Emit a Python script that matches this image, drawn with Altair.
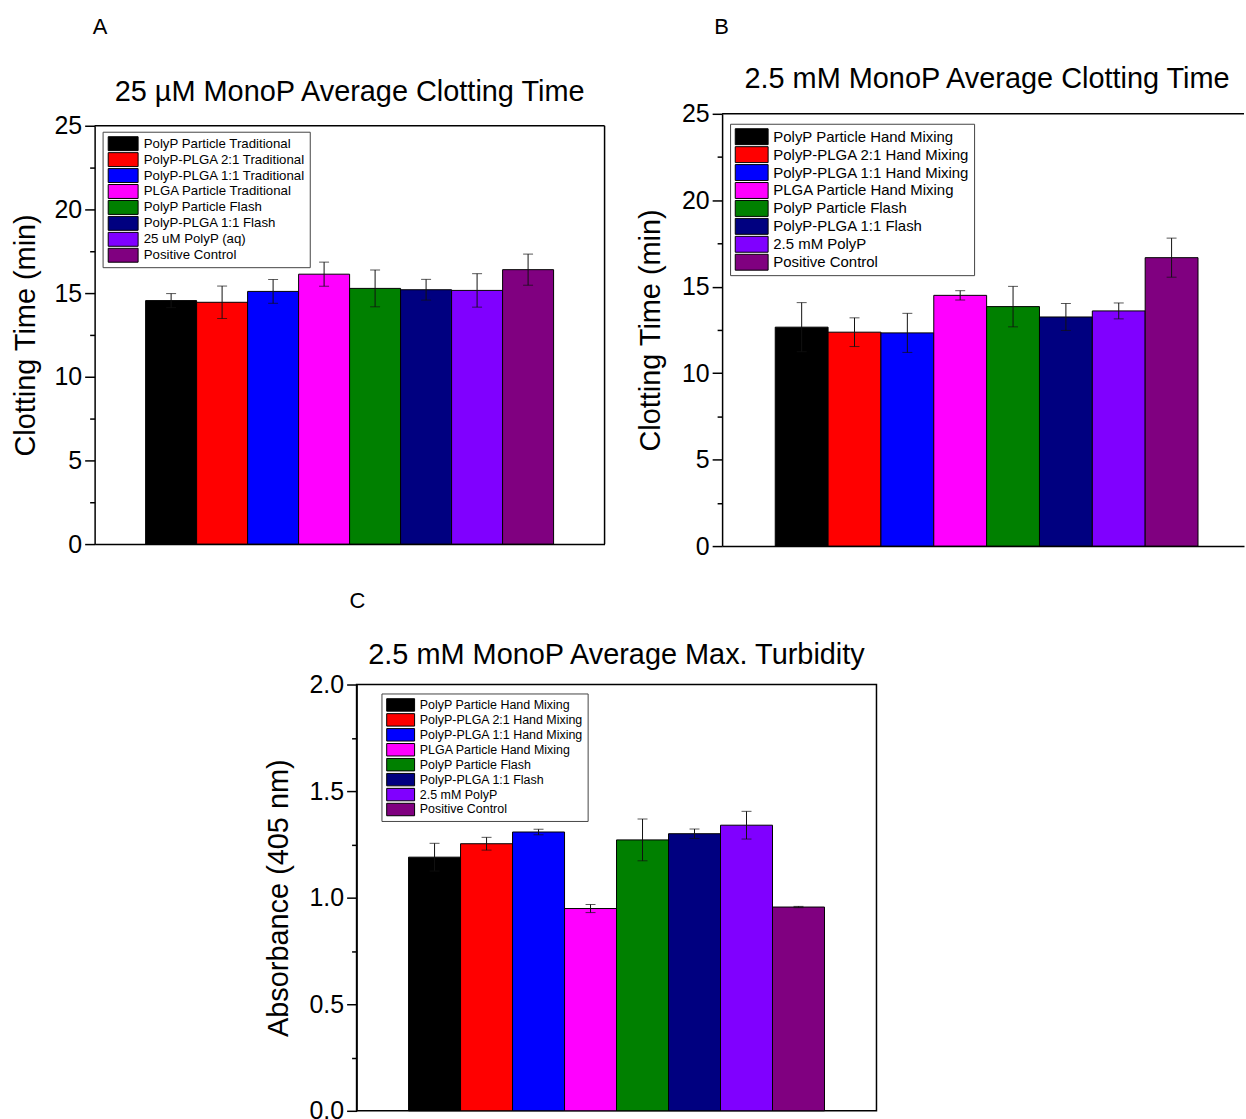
import altair as alt
import pandas as pd

FONT = "Liberation Sans"

# ---------------- data ----------------
colors = ["#000000", "#FF0000", "#0000FF", "#FF00FF", "#008000", "#000080", "#8000FF", "#800080"]

labels_a = ["PolyP Particle Traditional", "PolyP-PLGA 2:1 Traditional", "PolyP-PLGA 1:1 Traditional",
            "PLGA Particle Traditional", "PolyP Particle Flash", "PolyP-PLGA 1:1 Flash",
            "25 uM PolyP (aq)", "Positive Control"]
values_a = [14.55, 14.45, 15.10, 16.13, 15.28, 15.20, 15.16, 16.40]
errors_a = [0.42, 0.97, 0.71, 0.72, 1.10, 0.62, 1.00, 0.93]

labels_bc = ["PolyP Particle Hand Mixing", "PolyP-PLGA 2:1 Hand Mixing", "PolyP-PLGA 1:1 Hand Mixing",
             "PLGA Particle Hand Mixing", "PolyP Particle Flash", "PolyP-PLGA 1:1 Flash",
             "2.5 mM PolyP", "Positive Control"]
values_b = [12.66, 12.37, 12.33, 14.50, 13.85, 13.25, 13.60, 16.68]
errors_b = [1.42, 0.83, 1.13, 0.27, 1.17, 0.78, 0.46, 1.13]

values_c = [1.190, 1.253, 1.308, 0.949, 1.271, 1.300, 1.340, 0.956]
errors_c = [0.065, 0.030, 0.013, 0.019, 0.098, 0.022, 0.065, 0.003]

titles = ["25 \u00b5M MonoP Average Clotting Time",
          "2.5 mM MonoP Average Clotting Time",
          "2.5 mM MonoP Average Max. Turbidity"]
y_titles = ["Clotting Time (min)", "Clotting Time (min)", "Absorbance (405 nm)"]
letters = ["A", "B", "C"]


def panel(labels, values, errors, *, title, title_y, title_dx, ytitle, ymax, major, minor, fmt,
          width, height, shift, pad_outer, band_align, title_pad,
          leg_x, leg_y, leg_font, sym_w, sym_h, sym_s, leg_row_h, leg_pad,
          letter, letter_x, letter_y, frame):
    # frame: "view" (box drawn by the view), "box" (drawn by axes + rules), "open" (no right side)
    df = pd.DataFrame({
        "cond": labels,
        "value": values,
        "lo": [v - e for v, e in zip(values, errors)],
        "hi": [v + e for v, e in zip(values, errors)],
    })
    n_minor = int(round(ymax / minor))
    tick_vals = [round(i * minor, 4) for i in range(n_minor + 1)]
    is_major = f"abs(datum.value / {major} - round(datum.value / {major})) < 0.001"
    yaxis = alt.Axis(
        values=tick_vals, format=fmt,
        labelExpr=f"{is_major} ? datum.label : ''",
        tickSize={"condition": {"test": is_major, "value": 10}, "value": 5},
        tickWidth=1.5, tickColor="black",
        domain=True, domainColor="black", domainWidth=1.5,
        grid=False,
        labelFontSize=25, labelColor="black", labelPadding=3, labelFont=FONT,
        title=ytitle, titleFontSize=29, titleFontWeight="normal", titleColor="black",
        titlePadding=title_pad, titleFont=FONT,
    )
    total_h = height + shift
    yscale = alt.Scale(domain=[0, ymax], nice=False, zero=True, range=[total_h, shift])
    xscale = alt.Scale(domain=labels, paddingInner=0, paddingOuter=pad_outer, align=band_align)
    if frame == "view":
        xenc = alt.X("cond:N", sort=labels, scale=xscale, axis=None)
    else:
        xenc = alt.X("cond:N", sort=labels, scale=xscale,
                     axis=alt.Axis(labels=False, ticks=False, title=None, domain=True,
                                   domainColor="black", domainWidth=1.5, grid=False))
    u = sym_s / 2.0
    a = round((sym_h / 2.0) / u, 4)
    b = round(-1 + sym_w / u, 4)
    legend = alt.Legend(
        title=None, orient="none", legendX=leg_x, legendY=leg_y,
        fillColor="white", strokeColor="#444444", padding=leg_pad,
        labelFontSize=leg_font, labelColor="black", labelFont=FONT, labelLimit=0,
        labelOffset=sym_w - sym_s + 4,
        symbolType=f"M-1,-{a}H{b}V{a}H-1Z", symbolSize=sym_s * sym_s,
        symbolStrokeColor="black", symbolStrokeWidth=1, symbolOpacity=1,
        clipHeight=leg_row_h, rowPadding=0,
    )
    base = alt.Chart(df)
    bars = base.mark_bar(stroke="black", strokeWidth=1, opacity=1).encode(
        x=xenc,
        y=alt.Y("value:Q", scale=yscale, axis=yaxis),
        color=alt.Color("cond:N", scale=alt.Scale(domain=labels, range=colors), legend=legend),
    )
    err = base.mark_rule(color="#111111", strokeWidth=1).encode(
        x=xenc, y=alt.Y("lo:Q", scale=yscale, axis=yaxis), y2="hi:Q")
    cap_hi = base.mark_tick(color="#111111", thickness=1, size=10, orient="horizontal").encode(
        x=xenc, y=alt.Y("hi:Q", scale=yscale, axis=yaxis))
    cap_lo = base.mark_tick(color="#111111", thickness=1, size=10, orient="horizontal").encode(
        x=xenc, y=alt.Y("lo:Q", scale=yscale, axis=yaxis))
    layers = [bars, err, cap_hi, cap_lo]
    if frame != "view":
        frame_df = pd.DataFrame({"bottom": [0], "top": [ymax]})
        top_rule = alt.Chart(frame_df).mark_rule(color="black", strokeWidth=1.5).encode(
            y=alt.Y("top:Q", scale=yscale, axis=yaxis), x=alt.value(0), x2=alt.value(width))
        layers.append(top_rule)
        if frame == "box":
            right_rule = alt.Chart(frame_df).mark_rule(color="black", strokeWidth=1.5).encode(
                y=alt.Y("bottom:Q", scale=yscale, axis=yaxis), y2="top:Q", x=alt.value(width))
            layers.append(right_rule)
    letter_chart = alt.Chart(pd.DataFrame({"t": [letter]})).mark_text(
        align="left", baseline="alphabetic", fontSize=22, color="black", font=FONT
    ).encode(text="t:N", x=alt.value(letter_x), y=alt.value(letter_y))
    title_chart = alt.Chart(pd.DataFrame({"t": [title]})).mark_text(
        align="center", baseline="alphabetic", fontSize=29, color="black", font=FONT
    ).encode(text="t:N", x=alt.value(width / 2 + title_dx), y=alt.value(title_y))
    layers += [letter_chart, title_chart]
    view = (alt.ViewBackground(stroke="black", strokeWidth=1.5) if frame == "view"
            else alt.ViewBackground(stroke="transparent"))
    return alt.layer(*layers).properties(width=width, height=total_h, view=view)


pA = panel(labels_a, values_a, errors_a, title=titles[0], title_y=-13, title_dx=0,
           ytitle=y_titles[0], ymax=25, major=5, minor=2.5, fmt="d",
           width=512, height=420, shift=12, pad_outer=1.0, band_align=0.5, title_pad=14,
           leg_x=8, leg_y=18, leg_font=13.3, sym_w=30, sym_h=14, sym_s=10, leg_row_h=16, leg_pad=4,
           letter=letters[0], letter_x=-2, letter_y=-80, frame="box")

pB = panel(labels_bc, values_b, errors_b, title=titles[1], title_y=-26, title_dx=4,
           ytitle=y_titles[1], ymax=25, major=5, minor=2.5, fmt="d",
           width=524, height=434, shift=0, pad_outer=0.938, band_align=0.536, title_pad=16,
           leg_x=8, leg_y=10, leg_font=15, sym_w=33, sym_h=16, sym_s=12.6, leg_row_h=18, leg_pad=4,
           letter=letters[1], letter_x=-8, letter_y=-80, frame="open")

pC = panel(labels_bc, values_c, errors_c, title=titles[2], title_y=-21, title_dx=0,
           ytitle=y_titles[2], ymax=2.0, major=0.5, minor=0.25, fmt=".1f",
           width=522, height=428, shift=0, pad_outer=1.0, band_align=0.5, title_pad=16,
           leg_x=25, leg_y=9, leg_font=12.5, sym_w=28, sym_h=12.5, sym_s=10, leg_row_h=15, leg_pad=4,
           letter=letters[2], letter_x=-7, letter_y=-77, frame="view")

spacer = alt.Chart(pd.DataFrame({"s": [""]})).mark_text(opacity=0).encode(
    text="s:N", x=alt.value(0), y=alt.value(0)
).properties(width=168, height=1, view=alt.ViewBackground(stroke="transparent"))

row1 = alt.hconcat(pA, pB, spacing=29).resolve_scale(color="independent", x="independent", y="independent")
row2 = alt.hconcat(spacer, pC, spacing=0).resolve_scale(color="independent", x="independent", y="independent")

chart = alt.vconcat(row1, row2, spacing=29).resolve_scale(
    color="independent", x="independent", y="independent"
).properties(
    padding={"left": 10, "top": 13, "right": 0, "bottom": 0},
    background="white",
).configure(font=FONT)

chart.save("out.html", embed_options={"renderer": "svg", "actions": False})
